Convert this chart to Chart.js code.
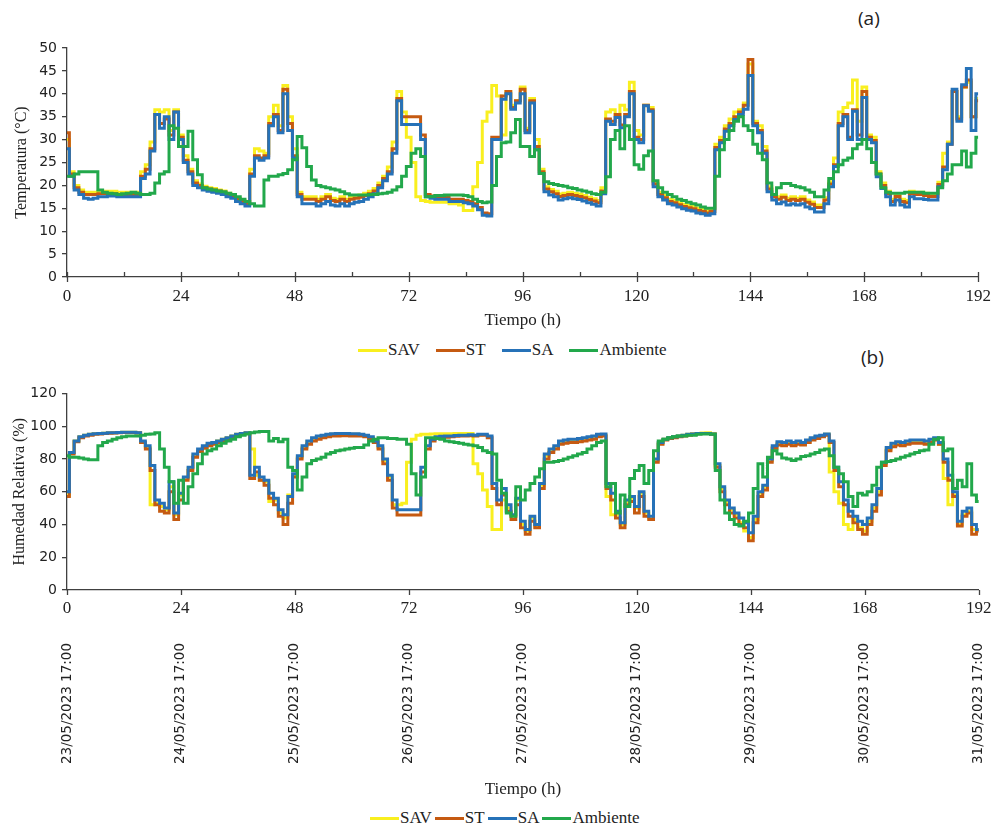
<!DOCTYPE html>
<html lang="es">
<head>
<meta charset="utf-8">
<title>Temperatura y humedad relativa</title>
<script src="https://cdn.jsdelivr.net/npm/chart.js@4.4.1/dist/chart.umd.min.js"></script>
<style>
html,body{margin:0;padding:0;background:#fff;}
body{width:1000px;height:831px;position:relative;overflow:hidden;}
.box{position:absolute;left:0;width:1000px;}
.tag{position:absolute;font-family:'Open Sans',sans-serif;font-size:19px;color:#222;line-height:20px;}
.leg{position:absolute;height:20px;display:flex;align-items:center;font-family:'Liberation Serif',serif;font-size:17px;color:#222;white-space:nowrap;}
.leg .sw{display:inline-block;width:29px;height:3px;}
</style>
</head>
<body>
<div class="tag" style="left:858px;top:8px">(a)</div>
<div class="box" style="top:0;height:331px"><canvas id="cT"></canvas></div>
<div class="leg" id="legT" style="left:358px;top:340px"></div>
<div class="tag" style="left:861px;top:347px">(b)</div>
<div class="box" style="top:380px;height:420px"><canvas id="cH"></canvas></div>
<div class="leg" id="legH" style="left:370px;top:808px"></div>
<script>
/* ===== datos: una lectura por hora, 0..192 h ===== */
const HOURS = Array.from({length: 193}, (_, i) => i);
const DATES = ['23/05/2023 17:00','24/05/2023 17:00','25/05/2023 17:00','26/05/2023 17:00',
  '27/05/2023 17:00','28/05/2023 17:00','29/05/2023 17:00','30/05/2023 17:00','31/05/2023 17:00'];
const NAMES  = ['SAV', 'ST', 'SA', 'Ambiente'];
const COLORS = ['#F9EF1F', '#C55A11', '#2672B8', '#22A84B'];

// temperatura (°C)
const sav_t = [
  30,23,20,19,18.5,18.5,18.5,18.7,18.7,18.7,18.7,18.5,18.5,18.5,18.5,18.5,23,24.5,29.5,36.5,36,36.5,32,36.5,
  31,26.5,23.5,21,20.3,19.8,19.5,19.3,19,18.8,18.3,17.8,17.2,16.7,16.2,23.5,28,27.5,27,35,37.5,33,41.8,35,
  28,18.5,17.5,17.5,17.5,17,17.5,18,17.2,17,17.5,17,17.5,17.7,17.9,18.3,18.7,19.3,20.5,22,24,29.5,40.5,36,
  30.5,25,17.5,16.7,16.5,16.3,16.3,16.3,16.3,16,16,15.7,14.5,14.5,19.7,25,34,36,41.8,39.5,31,40.5,37.5,38.5,
  41.5,32.5,39,30,23.5,19.7,19.1,18.7,18.1,18.3,18.5,18.3,18.1,17.8,17.4,17.1,16.7,19.5,36,36.5,35.5,37.5,36.5,42.5,
  32,31,37.5,37,20.8,18.5,17.8,17,16.7,16.3,15.9,15.6,15.4,15,14.8,14.5,14.8,29,30.5,33,34.5,36,36.5,38,
  46.5,34,33,28.5,19.7,18,17.5,17.9,17.2,17.5,17.2,17.5,16.8,16.4,15.7,15.7,17.3,20.8,26,36,37,38,43,34,
  41.5,31,30.5,23,20.5,18.7,17,18.1,17,16.7,18.7,18.5,18.5,18.3,18.1,18.1,20.7,27,29.5,40.5,35,41.5,42.5,35,
  39];
const st_t = [
  31.5,22.5,19.5,18.5,18,18,18,18.2,18.2,18.2,18.2,18,18,18,18,18,22,23.5,28,35.5,33.5,34.5,31,36,
  30.5,25.5,23,20.5,20,19.5,19.2,19,18.8,18.5,18,17.7,17,16.5,16,22.5,26.5,26,26.5,33.5,35.5,32,41,33.5,
  26.5,18,17,17,17,16.5,17,17.5,16.7,16.5,17,16.5,17,17.2,17.4,17.8,18.2,18.8,20,21.5,23,28,39,35,
  35,35,35,31,18,17.7,17.5,17.5,17.5,17,17,17,16.7,16.5,16,15.2,14,13.8,30.5,30.5,39.5,40.5,37,38.5,
  41,32,38.5,28.5,23,19.2,18.6,18.2,17.6,17.8,18,17.8,17.6,17.3,16.9,16.6,16.2,18.8,34.5,34,35.5,33.2,35.5,40.5,
  30.5,30,37.5,36.5,20.3,18,17.3,16.5,16.2,15.8,15.4,15.1,14.9,14.5,14.3,14,14.3,28.3,29.8,32.3,33.5,35,36,37.5,
  47.5,33.5,32,27.5,19.2,17.5,17,17.4,16.7,17,16.7,17,16.3,15.9,15.2,15.2,16.8,20.3,24.5,33.5,35.5,30.5,36.5,31,
  40.5,30.5,29.8,22.5,20,18.2,16.5,17.6,16.5,16.2,18.2,18,18,17.8,17.6,17.6,20.2,24,29,40.5,34.5,41.5,43,35,
  38.5];
const sa_t = [
  28,22,19,18,17.2,17,17.2,17.5,17.5,17.7,17.7,17.5,17.5,17.5,17.5,17.5,21.5,22.5,27.5,35.5,32.5,35,30,36,
  30,25,22.5,20,19.5,19,18.7,18.5,18.3,18,17.5,17.2,16.5,16,15.5,22,26,25.5,26,33,35,31.5,40,32,
  26,17.5,16,16,16,15.5,16,16.5,15.7,15.5,16,15.5,16,16.3,16.5,17,17.5,18.2,19.5,21,22.5,27,38.5,33.3,
  33.3,33.3,33.3,30,17.5,17.2,17,17,17,16.5,16.5,16.5,16.2,16,15.5,14.7,13.5,13.3,30,30,38.8,40,36.6,38,
  40,31.5,38,27.8,22.6,18.6,17.9,17.5,16.8,17.1,17.3,17.1,16.9,16.6,16.2,15.9,15.5,18.2,34,33.3,34.8,32.6,35,40,
  30,29.3,37.4,36.2,19.7,17.5,16.8,16,15.7,15.3,14.9,14.6,14.4,14,13.8,13.5,13.8,27.8,29.3,31.8,33,34.4,35.5,36.6,
  44,33,31.5,27,18.6,16.8,16,16.4,15.7,16,15.7,16,15.3,14.9,14.2,14.2,16,19.7,24.1,33,35,30,36.2,30,
  39.2,30,29.3,21.9,19.3,17.5,15.7,16.8,15.7,15.3,17.5,17.1,17.1,16.9,16.8,16.8,19.7,23.4,29,41,34,42,45.5,32,
  40];
const amb_t = [
  22,22,22.5,23,23,23,23,19,18.5,18.3,18.2,18,18.2,18.3,18.5,18.3,18,18,18.3,20.5,22.5,23,33,32.5,
  28.5,28.5,31.8,25.6,22.3,19.5,19.2,19,18.8,18.6,18.3,18,17.5,17,16.5,16,15.5,15.5,21.2,22,22,22.3,22.6,23.4,
  25.6,30.7,28.2,24.1,21.2,20,19.7,19.5,19.2,19,18.6,18.2,17.9,17.9,17.9,17.9,18,18,18.2,18.3,18.5,19,19.7,22,
  24.1,27,28,26.3,17.5,17.6,17.8,17.8,17.9,17.9,17.9,17.9,17.8,17.5,17,16.5,16.2,16.4,20,26.3,29.3,29.5,31.5,34.4,
  28.5,28.5,26.3,27.8,22.6,20.8,20.4,20.2,20,19.8,19.5,19.3,19,18.8,18.5,18.2,18,18.5,21.9,30,32,28,33,30,
  24.5,23.5,26.5,27.5,21,19.5,18.5,18,17.5,17,16.7,16.3,16,15.7,15.3,15,15,22,27.8,30,32,34,35,33,
  32,29,27,25.6,20.5,18,19.5,20.4,20.4,20,19.7,19.5,19,18.5,17.5,17.5,19,21.5,23,24.5,25.5,26,28,29,
  30,28,25,22.5,19.5,18.5,18.3,18.3,18.3,18.5,18.5,18.5,18.5,18.3,18.3,18.3,19.5,21,22.5,24.5,24.5,27.5,24,27,
  30.5];

// humedad relativa (%)
const sav_h = [
  58,84,91,93.5,94.5,95,95.3,95.5,95.7,96,96,96.2,96.3,96.3,96.3,96,90,87,52,53,51,49,63,46,
  58,68,74,82,85,87,89,90,91,92,93,94,95,95.5,96,86,70,67,66,54,55,47,44,58,
  70,81,87,90.5,92.5,93.5,94,94.5,95,95,95,95,95,95,94.8,94.3,93,90.5,87,79,69,52,52,53,
  78,92,94.5,95,95,95.2,95.3,95.3,95.3,95.4,95.5,95.5,95.5,95.5,77,71,61,51,37,37,55,50,45,55,
  40,36,44,39,64,82,85,87,90,90.5,91,91,91.5,92,92.5,93,94,94.5,57,46,46,40,54,56,
  50,59,47,44,79,89.5,92,93,93.5,94,94.5,95,95.3,95.6,95.8,96,95.5,76,62,54,49,46,41,36,
  32,43,59,63,79,87,89.5,89,90,89,90,89.5,91,92.5,93.5,94,95,72,60,53,40,37,43,38,
  36,42,50,60,77,86,88.5,89.5,89,90,90.5,90.5,90.5,90,91,92.5,89,68,52,58,40,46,48,37,
  37];
const st_h = [
  57,83,90.5,93,94,94.5,95,95.2,95.5,95.7,95.8,96,96.2,96.2,96.2,95.8,90,86,73,52,48,47,60,43,
  55,67,73,81,84.5,86.5,88,89,90,91,92.5,93.5,94.5,95.2,95.7,68,72,67,64,56,52,45,40,53,
  69,80,86,89,91,92,93,93.5,94,94,94.2,94.2,94,94,94,93.5,92.5,90,86,77,67,50,45.8,45.8,
  45.8,45.8,45.8,72,86,91,92.5,93,93.3,93.5,93.8,94,94,94.2,94,94.5,94.5,93,62,52,58,48,43,52,
  38,34,42,38,62,80,84,86,89,89.5,90,90,90.5,91,91.5,92,93.5,94,62,55,44,38,52,54,
  47,57,45,43,78,89,91.5,92.5,93,93.5,94,94.5,95,95.3,95.5,95.5,95,75,60,52,47,44,40,38,
  30,41,57,61,78,86.5,88.5,88,89,88,89,88.5,90,91.5,92.5,93.5,94.5,90,73,63,52,45,41,37,
  34,40,48,58,76,85,87.5,88.5,88,89,89.5,89.5,89.5,89,90,91.5,89,78,67,57,39,45,47,34,
  36];
const sa_h = [
  60,84,91,93.5,94.5,95,95.3,95.5,95.7,96,96,96.2,96.3,96.3,96.3,96,91,88,76,55,53,50,66,47,
  59,69,75,83,86,88,89.5,90,91,92,93,94,95,95.5,96,70,75,69,67,59,56,49,46,57,
  71,82,88,91,93,94,94.5,95,95.3,95.5,95.5,95.5,95.3,95.3,95,94.5,93.5,91,88,80,70,55,49,49,
  49,49,49,75,88,92,93.5,93.8,94,94,94.3,94.5,94.5,94.7,94.5,95,95,94,65,55,62,52,46,56,
  42,37,45,40,65,83,86,88,91,91.5,92,92,92.5,93,93.5,94,95,95.2,65,59,48,41,55,57,
  51,60,48,45,80,90,92,93,93.5,94,94.5,95,95.2,95.5,95.5,95.5,95.2,77,63,55,50,47,44,41,
  35,45,60,64,80,88,90.5,90,91,90,91,90,91.5,93,94,94.5,95.2,91,75,66,55,48,45,42,
  40,44,52,62,78,87,89.5,90.5,90,91,91.5,91.5,91.5,91,92,93,90,80,70,60,42,48,50,40,
  37];
const amb_h = [
  82,81,81,80.5,80,79.5,79.5,88,90,91,92,93,93.5,94,94,94,94.5,95,95.2,96,86,75,66,53,
  67,53,63,71,77,83,85,86,88,89.5,91,92,93.5,94.5,95.2,96,96.5,96.8,96.8,91,92.5,90.5,92,75,
  73,61,69,77,79,80,81,83,84,85,85.5,86,86.5,87,87,88.5,91,92,93,93,92.5,92.5,92,92,
  89,71,58,69,93,93,92.5,92,91,90.5,90,89.5,89,88.5,88,87,85,84,83,67,59,47,45,63,
  55,61,65,69,74,78,78,78.5,79,80,81,82,83,84,86,88,90,91,63,65,47,58,51,68,
  73,76,65,73,85,91,92,93,93.5,94,94,94.5,94.5,95,95.2,95.2,95,73,55,47,43,40,39,42,
  47,62,77,69,81,85,83,80.5,80,79,80,81.5,82,83,84,85.5,86,82,75,71,66,57,51,59,
  58,60,64,75,78,78.5,79,80,81,82,83,84,85,85.5,89,92,93,85,86,62,67,63,77,58,
  54];

/* ===== estilo ===== */
const AXIS = '#404040', TXT = '#222';
const SERIF = "'Liberation Serif', serif", SANS = "'DejaVu Sans', sans-serif";

// marcas del eje x (mayores cada 24 h, menores cada 12 h)
const tickMarks = {
  id: 'tickMarks',
  afterDraw(chart, args, o) {
    const sx = chart.scales.x, y0 = chart.chartArea.bottom, ctx = chart.ctx;
    ctx.save();
    ctx.strokeStyle = AXIS; ctx.lineWidth = 1.3;
    for (let h = 0; h <= 192; h += o.step) {
      const major = h % 24 === 0;
      const up = major ? o.majorUp : o.minorUp, dn = major ? o.majorDown : 0;
      if (!up && !dn) continue;
      const px = Math.round(sx.getPixelForValue(h)) + 0.5;
      ctx.beginPath(); ctx.moveTo(px, y0 - up); ctx.lineTo(px, y0 + dn); ctx.stroke();
    }
    ctx.restore();
  }
};

const mkSets = arrs => arrs.map((a, i) => ({
  label: NAMES[i],
  data: a.map((v, k) => ({x: HOURS[k], y: v})),
  borderColor: COLORS[i], backgroundColor: COLORS[i],
  borderWidth: 3, pointRadius: 0, stepped: 'middle',
  order: 4 - i            // Ambiente encima de todo
}));

function yAxis(max, step, title, fs, pad) {
  return {
    min: 0, max,
    afterFit: s => { s.width = 67; },
    ticks: {stepSize: step, color: TXT, font: {family: SANS, size: fs}, padding: 5},
    grid: {drawOnChartArea: false, drawTicks: true, tickLength: 5, color: AXIS, lineWidth: 1.3},
    border: {color: AXIS, width: 1.3},
    title: {display: true, text: title, color: TXT, font: {family: SERIF, size: 16}, padding: {top: pad, bottom: 0}}
  };
}

function xAxis(h, pad, withTitle) {
  return {
    type: 'linear', min: 0, max: 192, offset: false, weight: 0,
    afterFit: s => { s.height = h; },
    ticks: {stepSize: 24, autoSkip: false, maxRotation: 0, color: TXT, font: {family: SERIF, size: 17}, padding: pad},
    grid: {display: false, drawTicks: false},
    border: {color: AXIS, width: 1.3},
    title: {display: withTitle, text: 'Tiempo (h)', color: TXT, font: {family: SERIF, size: 17}, padding: {top: 0, bottom: 0}}
  };
}

const base = {
  responsive: true, maintainAspectRatio: false, animation: false,
  plugins: {legend: {display: false}, tooltip: {enabled: false}}
};

/* ===== (a) temperatura ===== */
new Chart(document.getElementById('cT'), {
  type: 'line',
  data: {datasets: mkSets([sav_t, st_t, sa_t, amb_t])},
  options: {
    ...base,
    layout: {padding: {top: 48, right: 16, left: 0, bottom: 0}},
    plugins: {...base.plugins, tickMarks: {step: 12, majorUp: 5, majorDown: 5, minorUp: 5}},
    scales: {
      x: xAxis(54, 9, true),
      y: yAxis(50, 5, 'Temperatura (°C)', 14, 12)
    }
  },
  plugins: [tickMarks]
});

/* ===== (b) humedad relativa ===== */
new Chart(document.getElementById('cH'), {
  type: 'line',
  data: {datasets: mkSets([sav_h, st_h, sa_h, amb_h])},
  options: {
    ...base,
    layout: {padding: {top: 11, right: 21, left: 0, bottom: 0}},
    plugins: {...base.plugins, tickMarks: {step: 24, majorUp: 0, majorDown: 5, minorUp: 0}},
    scales: {
      x: xAxis(48, 8, false),
      x2: {
        type: 'linear', position: 'bottom', min: 0, max: 192, offset: false, weight: 1,
        afterFit: s => { s.height = 162; },
        ticks: {stepSize: 24, autoSkip: false, minRotation: 90, maxRotation: 90, padding: 5,
          color: TXT, font: {family: SANS, size: 13.5}, callback: v => DATES[v / 24]},
        grid: {display: false, drawTicks: false},
        border: {display: false},
        title: {display: true, text: 'Tiempo (h)', color: TXT, font: {family: SERIF, size: 17}, padding: {top: 0, bottom: 0}}
      },
      y: yAxis(120, 20, 'Humedad Relativa (%)', 14, 10)
    }
  },
  plugins: [tickMarks]
});

/* ===== leyendas ===== */
function legend(el, gap) {
  NAMES.forEach((n, i) => {
    const sw = document.createElement('span');
    sw.className = 'sw'; sw.style.background = COLORS[i];
    const t = document.createElement('span');
    t.textContent = n; t.style.marginLeft = '1px';
    if (i < NAMES.length - 1) t.style.marginRight = gap + 'px';
    el.append(sw, t);
  });
}
legend(document.getElementById('legT'), 16);
legend(document.getElementById('legH'), 3);
</script>
</body>
</html>
